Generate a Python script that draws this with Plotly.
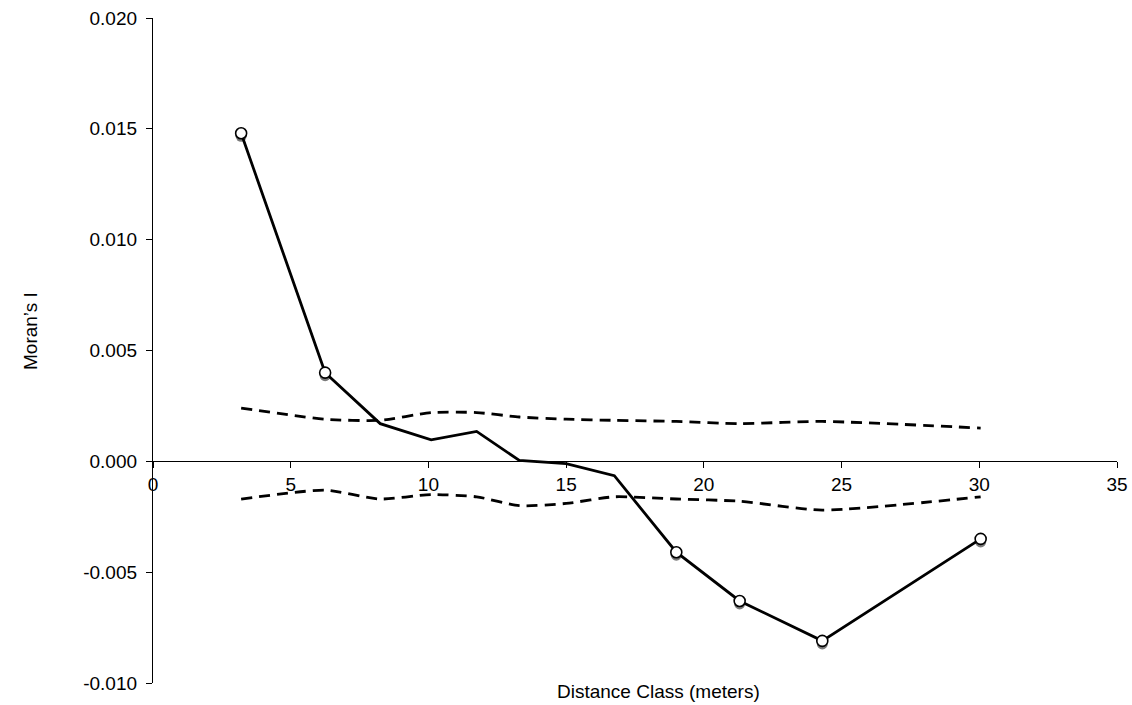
import plotly.graph_objects as go

# Distance classes (meters) and Moran's I correlogram values
distance = [3.2, 6.25, 8.25, 10.1, 11.75, 13.3, 15.0, 16.75, 19.0, 21.3, 24.3, 30.05]
morans_i = [0.0148, 0.0040, 0.0017, 0.00097, 0.00135, 0.00004, -0.0001, -0.00065,
            -0.0041, -0.0063, -0.0081, -0.0035]
# Significant classes are marked with open circles
sig_distance = [3.2, 6.25, 19.0, 21.3, 24.3, 30.05]
sig_morans_i = [0.0148, 0.0040, -0.0041, -0.0063, -0.0081, -0.0035]
# Upper and lower confidence envelopes
upper_ci = [0.0024, 0.0019, 0.00185, 0.0022, 0.0022, 0.0020, 0.0019, 0.00185,
            0.0018, 0.0017, 0.0018, 0.0015]
lower_ci = [-0.0017, -0.0013, -0.0017, -0.0015, -0.0016, -0.0020, -0.0019, -0.0016,
            -0.0017, -0.0018, -0.0022, -0.0016]

x_ticks = [0, 5, 10, 15, 20, 25, 30, 35]
y_ticks = [-0.010, -0.005, 0.000, 0.005, 0.010, 0.015, 0.020]
y_tick_text = ["-0.010", "-0.005", "0.000", "0.005", "0.010", "0.015", "0.020"]

W, H = 1132, 705
ML, MR, MT, MB = 153, 15, 18, 19
PW = W - ML - MR
PH = H - MT - MB
SHIFT = 3  # shadow offset in pixels

x_range = [0, 35]
y_range = [-0.010, 0.020]
font = "Liberation Sans, Arial, Helvetica, sans-serif"

fig = go.Figure()

# Drop shadow for the markers: first subplot (drawn underneath), shifted down
fig.add_trace(go.Scatter(
    x=sig_distance, y=sig_morans_i, mode="markers",
    marker=dict(size=11, color="#7a7a7a", line=dict(width=0)),
    xaxis="x", yaxis="y", hoverinfo="skip", showlegend=False))

# Main correlogram on the second subplot
dash_line = dict(color="black", width=2.8, dash="11px,7px", shape="spline", smoothing=0.6)
fig.add_trace(go.Scatter(x=distance, y=upper_ci, mode="lines", line=dash_line,
                         xaxis="x2", yaxis="y2", showlegend=False))
fig.add_trace(go.Scatter(x=distance, y=lower_ci, mode="lines", line=dash_line,
                         xaxis="x2", yaxis="y2", showlegend=False))
fig.add_trace(go.Scatter(x=distance, y=morans_i, mode="lines",
                         line=dict(color="black", width=2.8),
                         xaxis="x2", yaxis="y2", showlegend=False))
fig.add_trace(go.Scatter(
    x=sig_distance, y=sig_morans_i, mode="markers",
    marker=dict(size=11, color="white", line=dict(color="black", width=1.6)),
    xaxis="x2", yaxis="y2", showlegend=False))

# Horizontal axis drawn through y = 0 on its own overlaying axis
fig.add_trace(go.Scatter(x=[None], y=[None], xaxis="x3", yaxis="y2",
                         hoverinfo="skip", showlegend=False))

y_dom_main = [SHIFT / PH, 1]
zero_pos = y_dom_main[0] + (0 - y_range[0]) / (y_range[1] - y_range[0]) * (y_dom_main[1] - y_dom_main[0])

fig.update_layout(
    width=W, height=H,
    margin=dict(l=ML, r=MR, t=MT, b=MB, autoexpand=False),
    paper_bgcolor="white", plot_bgcolor="rgba(0,0,0,0)",
    font=dict(family=font, size=19, color="black"),
    xaxis=dict(range=x_range, domain=[0, 1], anchor="y", visible=False, automargin=False),
    yaxis=dict(range=y_range, domain=[0, 1 - SHIFT / PH], anchor="x", visible=False,
               automargin=False),
    xaxis2=dict(range=x_range, domain=[0, 1], anchor="y2", visible=False, automargin=False),
    yaxis2=dict(
        range=y_range, domain=y_dom_main, anchor="x2", automargin=False,
        tickvals=y_ticks, ticktext=y_tick_text, ticks="outside", ticklen=6,
        tickwidth=1.2, tickcolor="black", ticklabelstandoff=5,
        showline=True, linecolor="black", linewidth=1.3,
        showgrid=False, zeroline=False, tickfont=dict(size=19)),
    xaxis3=dict(
        range=x_range, overlaying="x2", anchor="free", position=zero_pos, automargin=False,
        tickvals=x_ticks, ticks="outside", ticklen=6, tickwidth=1.2, tickcolor="black",
        showline=True, linecolor="black", linewidth=1.3,
        showgrid=False, zeroline=False, tickfont=dict(size=19)),
    annotations=[
        dict(text="Distance Class (meters)", xref="paper", yref="paper",
             x=(658 - ML) / PW, y=-(692 - (H - MB)) / PH,
             xanchor="center", yanchor="middle", showarrow=False,
             font=dict(size=19)),
        dict(text="Moran\u2019s I", xref="paper", yref="paper",
             x=(30 - ML) / PW, y=1 - (331 - MT) / PH,
             xanchor="center", yanchor="middle", showarrow=False, textangle=-90,
             font=dict(size=19)),
    ],
)

fig.write_html("out.html")
